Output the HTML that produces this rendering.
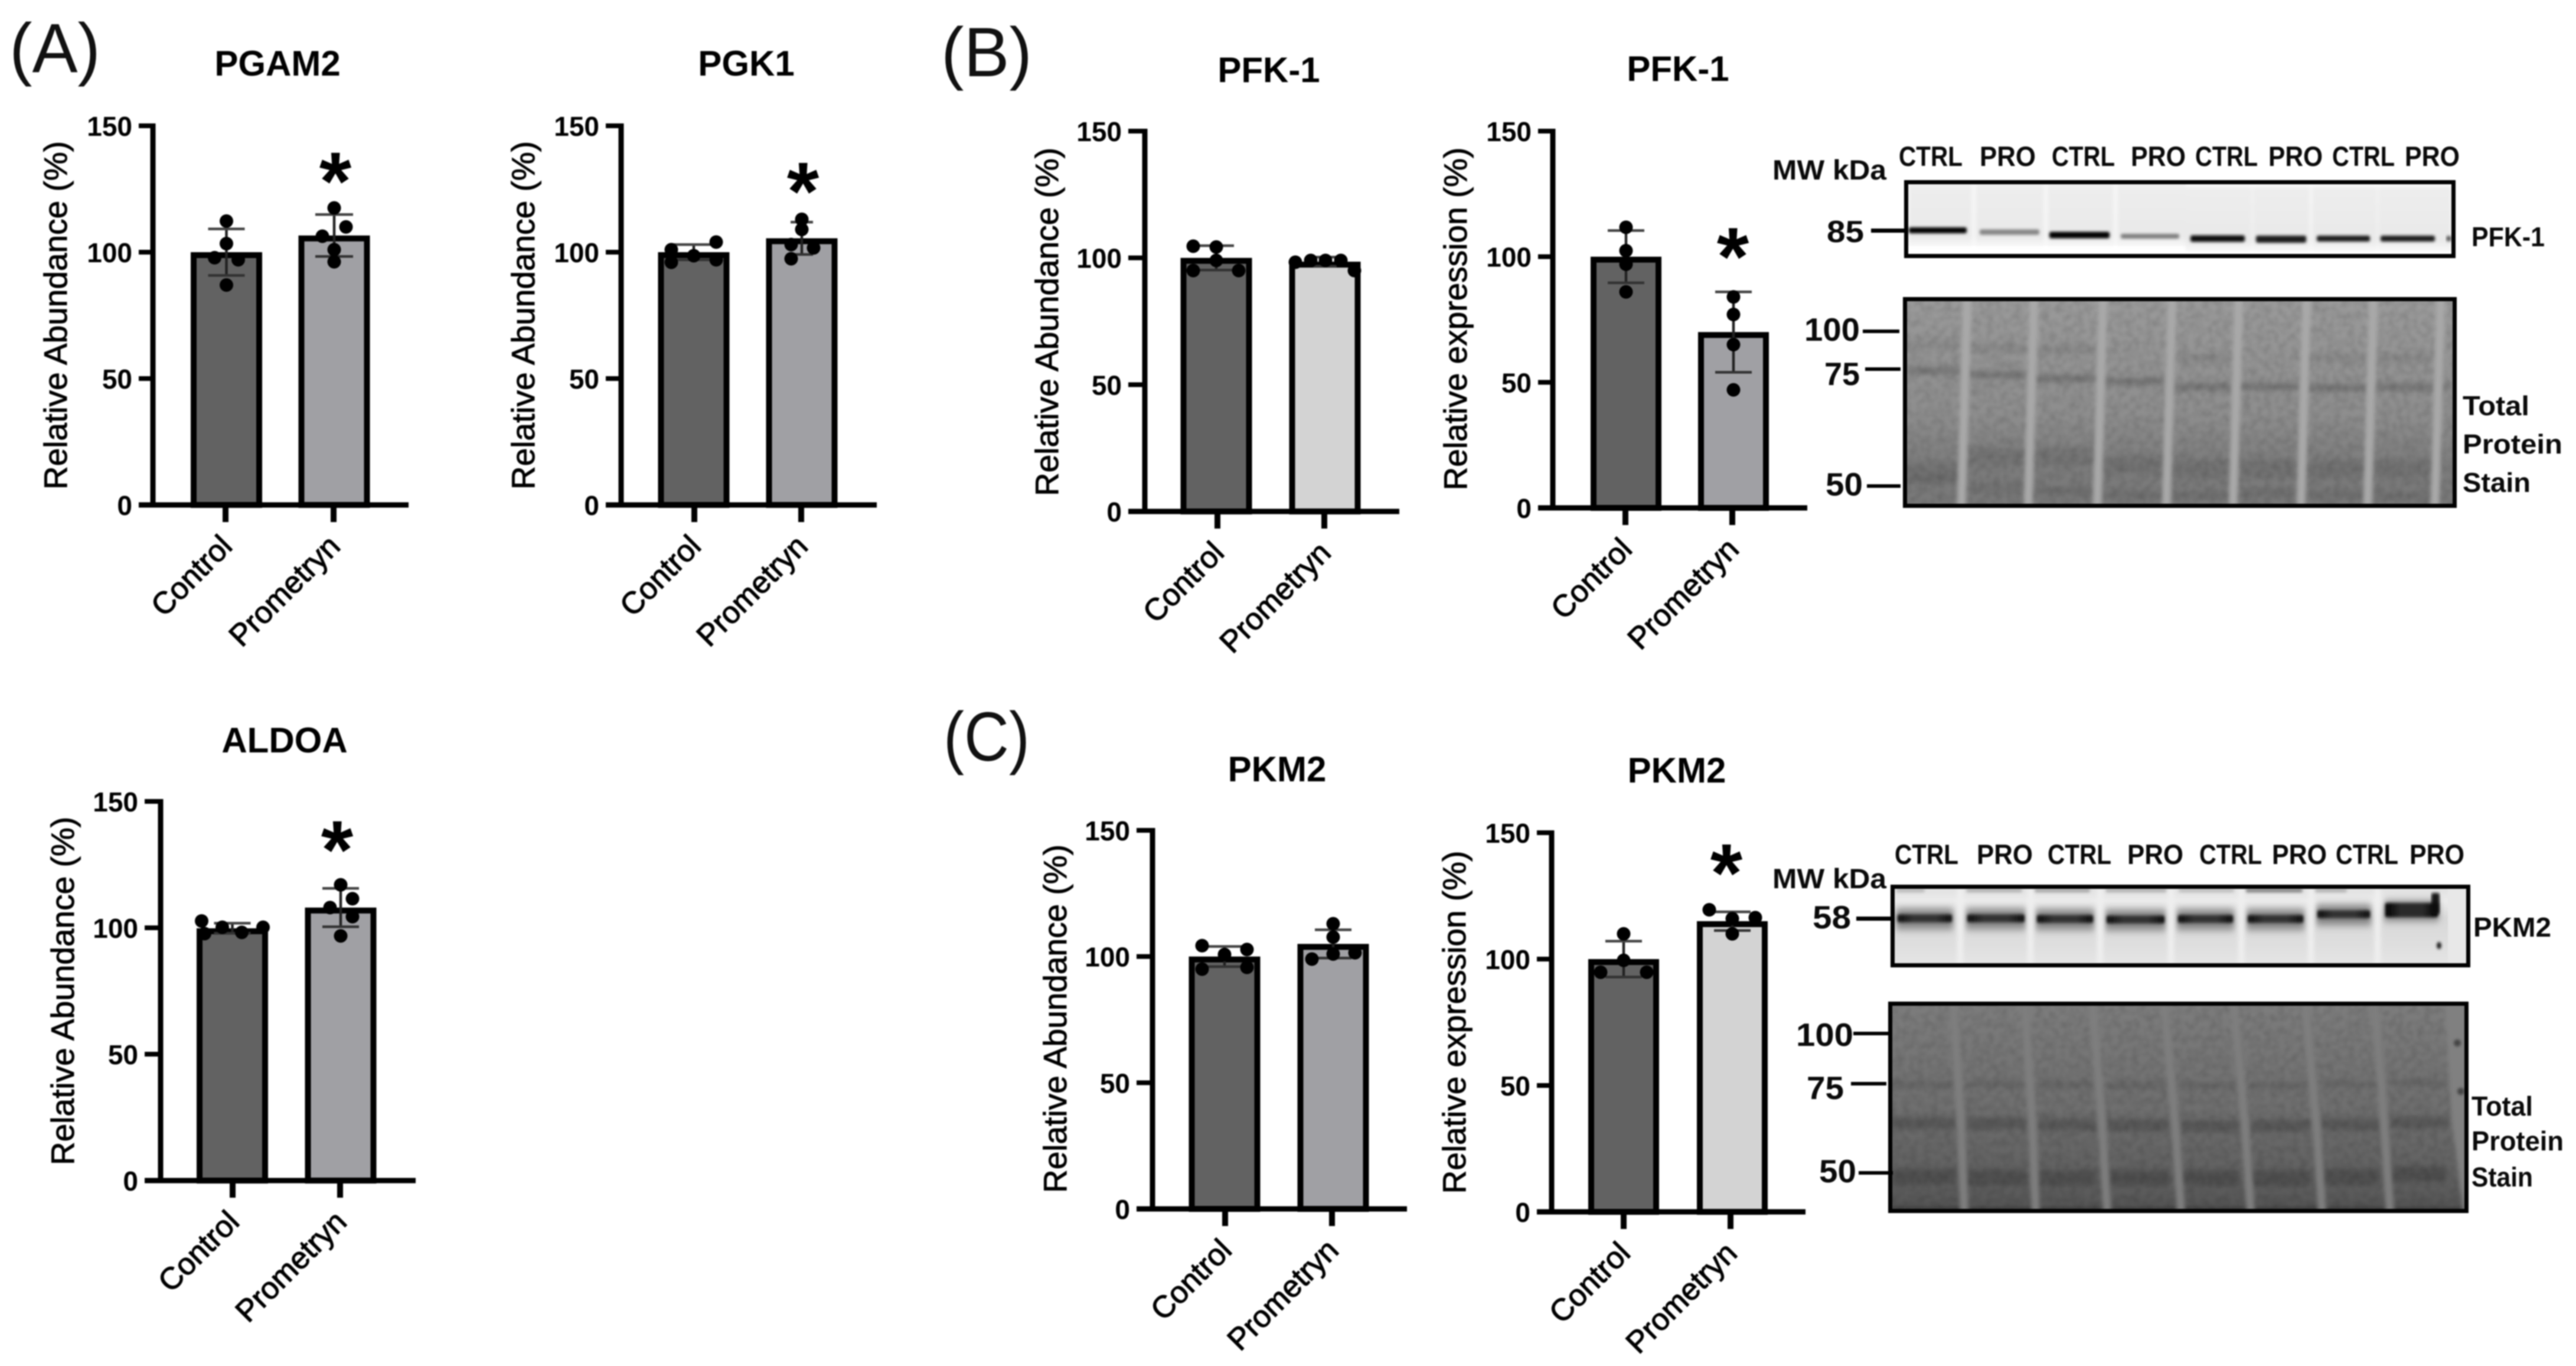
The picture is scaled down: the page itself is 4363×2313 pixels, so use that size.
<!DOCTYPE html>
<html lang="en">
<head>
<meta charset="utf-8">
<title>Glycolytic enzyme abundance and expression</title>
<style>
  html, body { margin: 0; padding: 0; background: #fff; }
  #figure { display: block; width: 4363px; height: 2313px; filter: blur(1.1px); }
  text { font-family: "Liberation Sans", sans-serif; fill: #000; }
  .blot-text { font-weight: bold; fill: #0a0a0a; }
  .panel-letter { font-size: 118px; fill: #111; }
</style>
</head>
<body>
<svg id="figure" xmlns="http://www.w3.org/2000/svg" width="4363" height="2313" viewBox="0 0 4363 2313">
  <defs>
    <linearGradient id="stain-grad-b" x1="0" y1="0" x2="0" y2="1">
      <stop offset="0" stop-color="#9a9a9a"/><stop offset="0.55" stop-color="#8e8e8e"/><stop offset="0.8" stop-color="#7c7c7c"/><stop offset="1" stop-color="#787878"/>
    </linearGradient>
    <linearGradient id="stain-grad-c" x1="0" y1="0" x2="0" y2="1">
      <stop offset="0" stop-color="#7d7d7d"/><stop offset="0.5" stop-color="#6f6f6f"/><stop offset="0.88" stop-color="#5e5e5e"/><stop offset="0.96" stop-color="#555"/><stop offset="1" stop-color="#333"/>
    </linearGradient>
    <linearGradient id="blot-fade-b" x1="0" y1="0" x2="0" y2="1">
      <stop offset="0" stop-color="#ededed"/><stop offset="0.85" stop-color="#e9e9e9"/><stop offset="1" stop-color="#f8f8f8"/>
    </linearGradient>
    <linearGradient id="blot-bg-c" x1="0" y1="0" x2="0" y2="1">
      <stop offset="0" stop-color="#dedede"/><stop offset="0.2" stop-color="#ececec"/><stop offset="0.4" stop-color="#d8d8d8"/><stop offset="0.75" stop-color="#dfdfdf"/><stop offset="1" stop-color="#e6e6e6"/>
    </linearGradient>
    <linearGradient id="band-core" x1="0" y1="0" x2="1" y2="0">
      <stop offset="0" stop-color="#000"/><stop offset="0.3" stop-color="#2c2c2c"/><stop offset="0.7" stop-color="#2c2c2c"/><stop offset="1" stop-color="#000"/>
    </linearGradient>
    <filter id="soft-band" x="-10%" y="-300%" width="120%" height="700%"><feGaussianBlur stdDeviation="2.4"/></filter>
    <filter id="soft-haze" x="-10%" y="-300%" width="120%" height="700%"><feGaussianBlur stdDeviation="5 7"/></filter>
    <filter id="soft-stain" x="-10%" y="-300%" width="120%" height="700%"><feGaussianBlur stdDeviation="4.5"/></filter>
    <filter id="soft-wide" x="-5%" y="-5%" width="110%" height="110%"><feGaussianBlur stdDeviation="3.5"/></filter>
    <filter id="soft-spot" x="-200%" y="-200%" width="500%" height="500%"><feGaussianBlur stdDeviation="2"/></filter>
    <filter id="mottle" x="0" y="0" width="100%" height="100%">
      <feTurbulence type="fractalNoise" baseFrequency="0.085" numOctaves="2" seed="4"/>
      <feColorMatrix type="matrix" values="0 0 0 0 0  0 0 0 0 0  0 0 0 0 0  1.6 0 0 0 -0.55"/>
      <feGaussianBlur stdDeviation="1.6"/>
    </filter>
    <clipPath id="clip-stain-b"><rect x="3226" y="507" width="932" height="350"/></clipPath>
    <clipPath id="clip-stain-c"><rect x="3201" y="1699" width="977" height="352"/></clipPath>
  </defs>

  <rect x="0" y="0" width="4363" height="2313" fill="#fff"/>

  <text class="panel-letter" x="16" y="122" textLength="154" lengthAdjust="spacingAndGlyphs">(A)</text>
  <text class="panel-letter" x="1594" y="129" textLength="154" lengthAdjust="spacingAndGlyphs">(B)</text>
  <text class="panel-letter" x="1598" y="1288" textLength="146" lengthAdjust="spacingAndGlyphs">(C)</text>

  <g id="charts"></g>

  <g id="blot-pfk"></g>
  <g id="stain-pfk"></g>
  <g id="blot-pkm"></g>
  <g id="stain-pkm"></g>

  <g>
    <text class="blot-text" font-size="47" x="3216" y="281" textLength="108" lengthAdjust="spacingAndGlyphs">CTRL</text>
    <text class="blot-text" font-size="47" x="3353" y="281" textLength="95" lengthAdjust="spacingAndGlyphs">PRO</text>
    <text class="blot-text" font-size="47" x="3475" y="281" textLength="107" lengthAdjust="spacingAndGlyphs">CTRL</text>
    <text class="blot-text" font-size="47" x="3609" y="281" textLength="93" lengthAdjust="spacingAndGlyphs">PRO</text>
    <text class="blot-text" font-size="47" x="3718" y="281" textLength="106" lengthAdjust="spacingAndGlyphs">CTRL</text>
    <text class="blot-text" font-size="47" x="3842" y="281" textLength="92" lengthAdjust="spacingAndGlyphs">PRO</text>
    <text class="blot-text" font-size="47" x="3950" y="281" textLength="106" lengthAdjust="spacingAndGlyphs">CTRL</text>
    <text class="blot-text" font-size="47" x="4073" y="281" textLength="93" lengthAdjust="spacingAndGlyphs">PRO</text>
    <text class="blot-text" font-size="47" x="3002" y="304" textLength="193" lengthAdjust="spacingAndGlyphs">MW kDa</text>
    <text class="blot-text" font-size="52" x="3094" y="410" textLength="63" lengthAdjust="spacingAndGlyphs">85</text>
    <rect x="3169" y="387" width="60" height="7" fill="#000"/>
    <text class="blot-text" font-size="46" x="4186" y="417" textLength="124" lengthAdjust="spacingAndGlyphs">PFK-1</text>
    <text class="blot-text" font-size="55" x="3056" y="577" textLength="94" lengthAdjust="spacingAndGlyphs">100</text>
    <rect x="3155" y="558" width="62" height="6" fill="#000"/>
    <text class="blot-text" font-size="55" x="3090" y="652" textLength="60" lengthAdjust="spacingAndGlyphs">75</text>
    <rect x="3159" y="622" width="60" height="6" fill="#000"/>
    <text class="blot-text" font-size="55" x="3092" y="839" textLength="63" lengthAdjust="spacingAndGlyphs">50</text>
    <rect x="3162" y="820" width="57" height="6" fill="#000"/>
    <text class="blot-text" font-size="46" x="4171" y="703" textLength="113" lengthAdjust="spacingAndGlyphs">Total</text>
    <text class="blot-text" font-size="46" x="4171" y="768" textLength="169" lengthAdjust="spacingAndGlyphs">Protein</text>
    <text class="blot-text" font-size="46" x="4171" y="833" textLength="115" lengthAdjust="spacingAndGlyphs">Stain</text>
  </g>

  <g>
    <text class="blot-text" font-size="47" x="3209" y="1463" textLength="108" lengthAdjust="spacingAndGlyphs">CTRL</text>
    <text class="blot-text" font-size="47" x="3348" y="1463" textLength="95" lengthAdjust="spacingAndGlyphs">PRO</text>
    <text class="blot-text" font-size="47" x="3468" y="1463" textLength="108" lengthAdjust="spacingAndGlyphs">CTRL</text>
    <text class="blot-text" font-size="47" x="3603" y="1463" textLength="95" lengthAdjust="spacingAndGlyphs">PRO</text>
    <text class="blot-text" font-size="47" x="3725" y="1463" textLength="106" lengthAdjust="spacingAndGlyphs">CTRL</text>
    <text class="blot-text" font-size="47" x="3848" y="1463" textLength="93" lengthAdjust="spacingAndGlyphs">PRO</text>
    <text class="blot-text" font-size="47" x="3956" y="1463" textLength="106" lengthAdjust="spacingAndGlyphs">CTRL</text>
    <text class="blot-text" font-size="47" x="4081" y="1463" textLength="93" lengthAdjust="spacingAndGlyphs">PRO</text>
    <text class="blot-text" font-size="47" x="3002" y="1504" textLength="193" lengthAdjust="spacingAndGlyphs">MW kDa</text>
    <text class="blot-text" font-size="55" x="3070" y="1572" textLength="65" lengthAdjust="spacingAndGlyphs">58</text>
    <rect x="3144" y="1552" width="62" height="7" fill="#000"/>
    <text class="blot-text" font-size="46" x="4189" y="1586" textLength="132" lengthAdjust="spacingAndGlyphs">PKM2</text>
    <text class="blot-text" font-size="55" x="3042" y="1771" textLength="97" lengthAdjust="spacingAndGlyphs">100</text>
    <rect x="3139" y="1747" width="60" height="6" fill="#000"/>
    <text class="blot-text" font-size="55" x="3060" y="1861" textLength="63" lengthAdjust="spacingAndGlyphs">75</text>
    <rect x="3135" y="1832" width="60" height="6" fill="#000"/>
    <text class="blot-text" font-size="55" x="3081" y="2002" textLength="63" lengthAdjust="spacingAndGlyphs">50</text>
    <rect x="3148" y="1983" width="58" height="6" fill="#000"/>
    <text class="blot-text" font-size="46" x="4186" y="1889" textLength="104" lengthAdjust="spacingAndGlyphs">Total</text>
    <text class="blot-text" font-size="46" x="4186" y="1948" textLength="156" lengthAdjust="spacingAndGlyphs">Protein</text>
    <text class="blot-text" font-size="46" x="4186" y="2009" textLength="104" lengthAdjust="spacingAndGlyphs">Stain</text>
  </g>
</svg>

<script>
// ---------- chart data ----------
const categories = ['Control', 'Prometryn'];
const yTickValues = [0, 50, 100, 150];
const yMax = 150;

const pgam2Means = [100, 106.6];
const pgam2Errors = [9.2, 8.3];
const pgam2ControlPoints = [112.3, 103.4, 97.8, 97, 87];
const pgam2PrometrynPoints = [117.5, 110, 106.3, 101, 96.2];

const pgk1Means = [100, 105.5];
const pgk1Errors = [3, 6.4];
const pgk1ControlPoints = [104, 101, 98.6, 97, 96];
const pgk1PrometrynPoints = [113, 109, 103, 101.7, 97.4];

const aldoaMeans = [99.8, 108];
const aldoaErrors = [2, 7.6];
const aldoaControlPoints = [102.7, 100.2, 97.7, 98.2, 100.2];
const aldoaPrometrynPoints = [117, 111.5, 108, 104.4, 96.8];

const pfkAbundanceMeans = [100, 98.5];
const pfkAbundanceErrors = [4.8, 1.8];
const pfkAbundanceControlPoints = [104.6, 104.3, 99, 95, 95];
const pfkAbundancePrometrynPoints = [98.3, 99, 99, 99, 95];

const pfkExpressionMeans = [100, 70];
const pfkExpressionErrors = [10.4, 16];
const pfkExpressionControlPoints = [111.7, 102.4, 97, 86];
const pfkExpressionPrometrynPoints = [84, 77, 65, 47];

const pkmAbundanceMeans = [100, 105];
const pkmAbundanceErrors = [4, 5.6];
const pkmAbundanceControlPoints = [104.3, 102.8, 100.8, 95, 95.7];
const pkmAbundancePrometrynPoints = [113, 107.7, 101.5, 101, 99];

const pkmExpressionMeans = [100, 115];
const pkmExpressionErrors = [7.1, 3.7];
const pkmExpressionControlPoints = [110, 99.5, 94.8, 94.8];
const pkmExpressionPrometrynPoints = [119.5, 116, 116.4, 110];

// ---------- panel geometry (layout only) ----------
const barFills = { dark: '#626262', mid: '#a0a0a4', light: '#d3d3d3' };

const panels = [
  { id: 'pgam2', title: 'PGAM2', titleX: 470, titleY: 106, axisX: 259, y0: 855, yTop: 213, tickLeft: 235, xEnd: 692,
    barCenters: [383.5, 566], barWidth: 121, xTicks: [382, 565], labelX: 113, labelY: 534, yTitle: 'Relative Abundance (%)',
    fills: ['dark', 'mid'], capHalf: [31, 32], star: { value: 132, dx: 3 },
    means: pgam2Means, errors: pgam2Errors, control: pgam2ControlPoints, prometryn: pgam2PrometrynPoints,
    jitterA: [0, 0, -20, 20, 0], jitterB: [0, 20, -20, 0, 0] },
  { id: 'pgk1', title: 'PGK1', titleX: 1264, titleY: 106, axisX: 1052, y0: 855, yTop: 213, tickLeft: 1026, xEnd: 1485,
    barCenters: [1175, 1358], barWidth: 121, xTicks: [1176, 1357], labelX: 905, labelY: 534, yTitle: 'Relative Abundance (%)',
    fills: ['dark', 'mid'], capHalf: [38, 19], star: { value: 128, dx: 3 },
    means: pgk1Means, errors: pgk1Errors, control: pgk1ControlPoints, prometryn: pgk1PrometrynPoints,
    jitterA: [38, -38, 0, 38, -38], jitterB: [0, 0, -18, 20, -18] },
  { id: 'aldoa', title: 'ALDOA', titleX: 482, titleY: 1252, axisX: 272, y0: 1999, yTop: 1357, tickLeft: 245, xEnd: 704,
    barCenters: [393.5, 577], barWidth: 121, xTicks: [394, 576], labelX: 125, labelY: 1678, yTitle: 'Relative Abundance (%)',
    fills: ['dark', 'mid'], capHalf: [31, 31], star: { value: 134.8, dx: -5 },
    means: aldoaMeans, errors: aldoaErrors, control: aldoaControlPoints, prometryn: aldoaPrometrynPoints,
    jitterA: [-52, -17, -47, 16, 52], jitterB: [0, 20, -18, 20, 0] },
  { id: 'pfk-abundance', title: 'PFK-1', titleX: 2149, titleY: 117, axisX: 1939, y0: 866, yTop: 222, tickLeft: 1911, xEnd: 2370,
    barCenters: [2060, 2244], barWidth: 121, xTicks: [2062, 2243], labelX: 1792, labelY: 545, yTitle: 'Relative Abundance (%)',
    fills: ['dark', 'light'], capHalf: [30, 20], star: null,
    means: pfkAbundanceMeans, errors: pfkAbundanceErrors, control: pfkAbundanceControlPoints, prometryn: pfkAbundancePrometrynPoints,
    jitterA: [-39, 0, 0, -39, 38], jitterB: [-50, -24, 1, 27, 50] },
  { id: 'pfk-expression', title: 'PFK-1', titleX: 2842, titleY: 115, axisX: 2630, y0: 860, yTop: 222, tickLeft: 2605, xEnd: 3061,
    barCenters: [2754, 2936], barWidth: 120, xTicks: [2753, 2934], labelX: 2484, labelY: 540, yTitle: 'Relative expression (%)',
    fills: ['dark', 'mid'], capHalf: [31, 31], star: { value: 104, dx: 1 },
    means: pfkExpressionMeans, errors: pfkExpressionErrors, control: pfkExpressionControlPoints, prometryn: pfkExpressionPrometrynPoints,
    jitterA: [0, 0, 0, 0], jitterB: [0, 0, 0, 0] },
  { id: 'pkm-abundance', title: 'PKM2', titleX: 2163, titleY: 1301, axisX: 1952, y0: 2047, yTop: 1406, tickLeft: 1925, xEnd: 2383,
    barCenters: [2074, 2258], barWidth: 121, xTicks: [2075, 2256], labelX: 1806, labelY: 1725, yTitle: 'Relative Abundance (%)',
    fills: ['dark', 'mid'], capHalf: [31, 31], star: null,
    means: pkmAbundanceMeans, errors: pkmAbundanceErrors, control: pkmAbundanceControlPoints, prometryn: pkmAbundancePrometrynPoints,
    jitterA: [-38, 38, 0, -38, 38], jitterB: [0, 0, 37, 0, -36] },
  { id: 'pkm-expression', title: 'PKM2', titleX: 2840, titleY: 1303, axisX: 2628, y0: 2052, yTop: 1410, tickLeft: 2603, xEnd: 3058,
    barCenters: [2750, 2934], barWidth: 120, xTicks: [2750, 2931], labelX: 2482, labelY: 1731, yTitle: 'Relative expression (%)',
    fills: ['dark', 'light'], capHalf: [31, 31], star: { value: 138, dx: -7 },
    means: pkmExpressionMeans, errors: pkmExpressionErrors, control: pkmExpressionControlPoints, prometryn: pkmExpressionPrometrynPoints,
    jitterA: [0, 0, -39, 39], jitterB: [-39, 0, 39, 0] }
];

const SVG_NS = 'http://www.w3.org/2000/svg';
function make(tag, parent, props) {
  const node = document.createElementNS(SVG_NS, tag);
  for (const key in props) node.setAttribute(key, props[key]);
  parent.appendChild(node);
  return node;
}

function drawPanel(p) {
  const root = document.getElementById('charts');
  const group = make('g', root, {});
  
  

  const scaleY = function (v) { return p.y0 - (v / yMax) * (p.y0 - p.yTop); };

  const title = make('text', group, { x: p.titleX, y: p.titleY + 22, 'text-anchor': 'middle', 'font-size': 60, 'font-weight': 'bold' });
  
  
  title.textContent = p.title;

  const yTitle = make('text', group, { 'text-anchor': 'middle', 'font-size': 55, stroke: '#000', 'stroke-width': 0.9, transform: 'translate(' + p.labelX + ' ' + p.labelY + ') rotate(-90)' });
  
  
  yTitle.textContent = p.yTitle;

  // bars: the outer edge of the outline sits on the mean
  p.means.forEach(function (mean, i) {
    const top = scaleY(mean) + 5;
    const bar = make('rect', group, { x: p.barCenters[i] - p.barWidth / 2 + 5, y: top, width: p.barWidth - 10, height: p.y0 - top, fill: barFills[p.fills[i]], stroke: '#000', 'stroke-width': 10 });
    
    
  });

  // axes
  const yAxis = make('line', group, { x1: p.axisX, x2: p.axisX, y1: p.yTop - 4, y2: p.y0 + 4, stroke: '#000', 'stroke-width': 9 });
  
  
  const xAxis = make('line', group, { x1: p.tickLeft, x2: p.xEnd, y1: p.y0, y2: p.y0, stroke: '#000', 'stroke-width': 9 });
  
  

  yTickValues.forEach(function (value) {
    const y = scaleY(value);
    const tick = make('line', group, { x1: p.tickLeft, x2: p.axisX, y1: y, y2: y, stroke: '#000', 'stroke-width': 8 });
    
    
    const label = make('text', group, { x: p.tickLeft - 11, y: y + 17, 'text-anchor': 'end', 'font-size': 46, 'font-weight': 'bold', fill: '#111' });
    
    
    label.textContent = String(value);
  });

  categories.forEach(function (name, i) {
    const x = p.xTicks[i];
    const tick = make('line', group, { x1: x, x2: x, y1: p.y0, y2: p.y0 + 29, stroke: '#000', 'stroke-width': 10 });
    
    
    const label = make('text', group, { 'text-anchor': 'end', 'font-size': 52, stroke: '#000', 'stroke-width': 1.2, transform: 'translate(' + (x + 14) + ' ' + (p.y0 + 73) + ') rotate(-45)' });
    
    
    label.textContent = name;
  });

  // error bars and points
  const pointSets = [p.control, p.prometryn];
  const jitters = [p.jitterA, p.jitterB];
  p.means.forEach(function (mean, i) {
    const cx = p.barCenters[i];
    const err = p.errors[i];
    const hi = scaleY(mean + err);
    const lo = scaleY(mean - err);
    const stem = make('line', group, { x1: cx, x2: cx, y1: hi, y2: lo, stroke: '#222', 'stroke-width': 4.5 });
    
    
    const capHigh = make('line', group, { x1: cx - p.capHalf[i], x2: cx + p.capHalf[i], y1: hi, y2: hi, stroke: '#444', 'stroke-width': 4.5 });
    
    
    const capLow = make('line', group, { x1: cx - p.capHalf[i], x2: cx + p.capHalf[i], y1: lo, y2: lo, stroke: '#333', 'stroke-width': 4.5 });
    
    

    pointSets[i].forEach(function (value, j) {
      const dot = make('circle', group, { cx: cx + jitters[i][j], cy: scaleY(value), r: 11.5, fill: '#000' });
      
      
    });
  });

  if (p.star) {
    const star = make('text', group, { x: p.xTicks[1] + p.star.dx, y: scaleY(p.star.value) + 65, 'text-anchor': 'middle', 'font-size': 140, 'font-weight': 'bold' });
    
    
    star.textContent = '*';
  }
}
panels.forEach(drawPanel);

// ---------- western blot artwork (image areas, not chart data) ----------
function boxBorder(parent, x, y, w, h, t) {
  const box = make('rect', parent, { x: x + t / 2, y: y + t / 2, width: w - t, height: h - t, fill: 'none', stroke: '#000', 'stroke-width': t });
  
  
}

function drawBand(parent, x1, x2, y, h, color, opacity, filterId) {
  const band = make('rect', parent, { x: x1, y: y - h / 2, width: x2 - x1, height: h, fill: color, opacity: opacity, rx: 3, filter: 'url(#' + filterId + ')' });
  
  
}

// PFK-1 immunoblot
(function () {
  const g = document.getElementById('blot-pfk');
  make('rect', g, { x: 3225, y: 305, width: 934, height: 132, fill: '#fff' });
  const laneStrips = [[3233, 3340], [3346, 3462], [3468, 3580], [3586, 3702], [3702, 3814], [3816, 3912], [3916, 4026], [4028, 4152]];
  const laneBack = make('rect', g, { x: 3232, y: 312, width: 470, height: 104, fill: '#f9f9f9' });
  
  
  const laneBackRight = make('rect', g, { x: 3702, y: 315, width: 450, height: 110, fill: '#f9f9f9' });
  
  
  const stripGroup = make('g', g, { filter: 'url(#soft-wide)' });
  laneStrips.forEach(function (s, i) {
    const strip = make('rect', stripGroup, { x: s[0], y: i < 4 ? 312 : 316, width: s[1] - s[0], height: i < 4 ? 104 : 108, fill: 'url(#blot-fade-b)' });
    
    
  });
  const lanes = [
    [3233, 3331, 390, 10, '#000', 1], [3353, 3454, 393, 9, '#808080', 0.95],
    [3471, 3573, 398, 11, '#000', 1], [3592, 3691, 400, 8, '#777', 0.95],
    [3710, 3802, 404, 11, '#0a0a0a', 1], [3821, 3906, 405, 12, '#1c1c1c', 1],
    [3924, 4014, 404, 10, '#1c1c1c', 1], [4032, 4124, 404, 10, '#1c1c1c', 1],
    [4143, 4152, 404, 9, '#444', 0.85]
  ];
  lanes.forEach(function (b) { drawBand(g, b[0], b[1], b[2], b[3], b[4], b[5], 'soft-band'); });
  boxBorder(g, 3225, 305, 934, 132, 7);
})();

// PFK-1 total protein stain
(function () {
  const g = document.getElementById('stain-pfk');
  const inner = make('g', g, { 'clip-path': 'url(#clip-stain-b)' });
  make('rect', inner, { x: 3223, y: 503, width: 938, height: 357, fill: 'url(#stain-grad-b)' });
  const laneEdges = [3226, 3328, 3441, 3558, 3675, 3788, 3903, 4016, 4130, 4158];
  const mainBandY = [628, 635, 641, 646, 655, 655, 657, 655, 655];
  const upperBandY = [584, 590, 592, 0, 606, 0, 606, 606, 0];
  const lowerBandY = [800, 773, 772, 786, 794, 794, 794, 793, 0];
  const bottomBandY = [812, 828, 832, 838, 838, 836, 838, 840, 0];
  for (let i = 0; i < laneEdges.length - 1; i++) {
    const a = laneEdges[i] + 4, b = laneEdges[i + 1] - 8;
    drawBand(inner, a, b, mainBandY[i], 11, '#5e5e5e', 0.6, 'soft-stain');
    if (upperBandY[i]) drawBand(inner, a, b, upperBandY[i], 14, '#727272', 0.32, 'soft-stain');
    if (lowerBandY[i]) drawBand(inner, a, b, lowerBandY[i], 30, '#606060', 0.32, 'soft-stain');
    if (bottomBandY[i]) drawBand(inner, a, b, bottomBandY[i], 12, '#545454', 0.28, 'soft-stain');
  }
  make('rect', inner, { x: 3223, y: 503, width: 938, height: 357, filter: 'url(#mottle)', opacity: 0.14 });
  const seps = make('g', inner, { filter: 'url(#soft-wide)' });
  for (let i = 1; i < laneEdges.length - 1; i++) {
    const sep = make('line', seps, { x1: laneEdges[i] + 4, y1: 505, x2: laneEdges[i] - 6, y2: 858, stroke: '#a9a9a9', 'stroke-width': 15 });
    
    
  }
  boxBorder(g, 3223, 503, 938, 357, 7);
})();

// PKM2 immunoblot
(function () {
  const g = document.getElementById('blot-pkm');
  make('rect', g, { x: 3202, y: 1498, width: 982, height: 140, fill: 'url(#blot-bg-c)' });
  const topStrips = [[3212, 3260, 0.35], [3330, 3425, 0.4], [3445, 3540, 0.5], [3566, 3670, 0.4], [3690, 3784, 0.3], [3803, 3900, 0.8], [3920, 3975, 0.4]];
  topStrips.forEach(function (s) { drawBand(g, s[0], s[1], 1508, 6, '#666', s[2], 'soft-band'); });
  const lanes = [
    [3212, 3308, 1555], [3330, 3431, 1555], [3448, 3547, 1556], [3566, 3668, 1557],
    [3687, 3784, 1556], [3805, 3903, 1556], [3923, 4016, 1548], [4038, 4131, 1541]
  ];
  lanes.forEach(function (b, i) {
    drawBand(g, b[0], b[1], b[2] + 1, 34, '#606060', 0.75, 'soft-haze');
    drawBand(g, b[0] + 2, b[1] - 2, b[2], i === 7 ? 24 : 13, 'url(#band-core)', i === 7 ? 1 : 0.9, 'soft-band');
  });
  drawBand(g, 4118, 4132, 1530, 36, '#111', 0.95, 'soft-band');
  const gaps = make('g', g, { filter: 'url(#soft-wide)' });
  [3320, 3439, 3557, 3677, 3796, 3914, 4027].forEach(function (x) {
    const gap = make('rect', gaps, { x: x - 5, y: 1504, width: 10, height: 130, fill: '#efefef' });
    
    
  });
  const speck = make('ellipse', g, { cx: 4131, cy: 1601, rx: 4, ry: 6, fill: '#222', filter: 'url(#soft-spot)' });
  
  
  const right = make('rect', g, { x: 4146, y: 1505, width: 32, height: 128, fill: '#e8e8e8' });
  
  
  boxBorder(g, 3202, 1498, 982, 140, 7);
})();

// PKM2 total protein stain
(function () {
  const g = document.getElementById('stain-pkm');
  const inner = make('g', g, { 'clip-path': 'url(#clip-stain-c)' });
  make('rect', inner, { x: 3198, y: 1696, width: 983, height: 358, fill: 'url(#stain-grad-c)' });
  const sepTop = [3308, 3429, 3544, 3665, 3783, 3904, 4022, 4140];
  const sepMid = [3321, 3442, 3560, 3684, 3802, 3923, 4038, 4153];
  const sepBottom = [3327, 3448, 3569, 3694, 3812, 3933, 4048, 4172];
  const faintY = [1836, 1836, 1836, 1838, 1838, 1838, 1836, 1834];
  const midY = [1902, 1902, 1904, 1905, 1907, 1906, 1904, 1901];
  const lowY = [1993, 1994, 1995, 1995, 1995, 1995, 1993, 1988];
  let left = 3202;
  for (let i = 0; i < sepMid.length; i++) {
    const right = sepMid[i] - 9;
    drawBand(inner, left, right, faintY[i], 9, '#505050', 0.42, 'soft-stain');
    drawBand(inner, left, right, midY[i], 20, '#4a4a4a', 0.55, 'soft-stain');
    drawBand(inner, left, right, lowY[i], 26, '#424242', 0.55, 'soft-stain');
    left = sepMid[i] + 9;
  }
  make('rect', inner, { x: 3198, y: 1696, width: 983, height: 358, filter: 'url(#mottle)', opacity: 0.14 });
  const seps = make('g', inner, { filter: 'url(#soft-wide)' });
  for (let i = 0; i < sepTop.length - 1; i++) {
    const sep = make('polyline', seps, { points: sepTop[i] + ',1697 ' + sepMid[i] + ',1900 ' + sepBottom[i] + ',2052', fill: 'none', stroke: '#7e7e7e', 'stroke-width': 14 });
    
    
  }
  const edge = make('polygon', seps, { points: '4140,1697 4180,1697 4180,2052 4172,2052 4153,1900', fill: '#808080' });
  
  
  [[4162, 1766], [4168, 1848]].forEach(function (spot) {
    const ladder = make('circle', inner, { cx: spot[0], cy: spot[1], r: 6, fill: '#444', filter: 'url(#soft-spot)' });
    
    
  });
  boxBorder(g, 3198, 1696, 983, 358, 7);
})();
</script>
</body>
</html>
